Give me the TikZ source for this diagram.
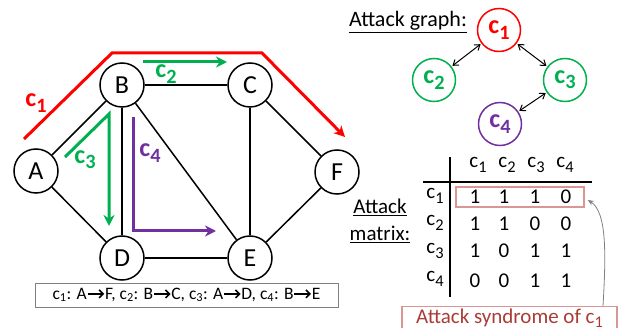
\documentclass[tikz,border=0pt]{standalone}
\usepackage{fontspec}
\usepackage{graphicx}
\setmainfont{Carlito}
\usetikzlibrary{arrows.meta}
\definecolor{cred}{RGB}{255,0,0}
\definecolor{cgreen}{RGB}{0,176,80}
\definecolor{cpurple}{RGB}{112,48,160}
\definecolor{boxpink}{RGB}{217,150,148}
\definecolor{synd}{RGB}{170,60,55}
\newcommand{\rarrow}{\tikz[baseline=-0.65ex]\draw[line width=1.6pt,-{Straight Barb[length=4pt,width=8pt]}] (0,0) -- (0.95em,0);}
\newcommand{\sbs}[1]{\raisebox{-0.2em}{\scalebox{0.78}{#1}}}
\begin{document}
\begin{tikzpicture}[x=1pt,y=-1pt,
  vert/.style={circle,draw,line width=1.5pt,minimum size=44pt,inner sep=0pt,font=\fontsize{26}{26}\selectfont},
  edge/.style={line width=1.5pt},
  attpath/.style={line width=3pt,line join=miter,-{Stealth[length=11pt,width=11pt,inset=3.5pt]}},
  plabel/.style={font=\fontsize{26}{26}\selectfont\bfseries},
  ag/.style={circle,draw,line width=1.5pt,minimum size=43pt,inner sep=0pt,font=\fontsize{26}{26}\selectfont\bfseries},
  biarr/.style={{Straight Barb[length=5pt,width=7pt]}-{Straight Barb[length=5pt,width=7pt]},line width=1pt,shorten <=1pt,shorten >=1pt},
  mtx/.style={font=\fontsize{21}{21}\selectfont},
  mhead/.style={font=\fontsize{21}{21}\selectfont},
]
\useasboundingbox (0,0) rectangle (626,328);

% --- network graph ---
\node[vert] (A) at (36,171) {A};
\node[vert] (B) at (122,85) {B};
\node[vert] (C) at (250,85) {C};
\node[vert] (D) at (122,258) {D};
\node[vert] (E) at (250,258) {E};
\node[vert] (F) at (337,172) {F};
\draw[edge] (A) -- (B);
\draw[edge] (A) -- (D);
\draw[edge] (B) -- (D);
\draw[edge] (B) -- (C);
\draw[edge] (B) -- (E);
\draw[edge] (C) -- (E);
\draw[edge] (C) -- (F);
\draw[edge] (D) -- (E);
\draw[edge] (E) -- (F);

% --- attack paths ---
\coordinate (r0) at (24,139);
\coordinate (r1) at (112,53);
\coordinate (r2) at (262,53);
\coordinate (r3) at (345,137);
\draw[attpath,draw=cred] (r0) -- (r1) -- (r2) -- (r3);
\node[plabel,text=cred] (l1) at (36,103) {c\sbs{1}};

\coordinate (g0) at (143,62);
\coordinate (g1e) at (227,62);
\draw[attpath,draw=cgreen] (g0) -- (g1e);
\node[plabel,text=cgreen] (l2) at (166,74) {c\sbs{2}};

\coordinate (t0) at (65,157);
\coordinate (t1) at (109,114);
\coordinate (t2) at (109,226);
\draw[attpath,draw=cgreen] (t0) -- (t1) -- (t2);
\node[plabel,text=cgreen] (l3) at (85,160) {c\sbs{3}};

\coordinate (p0) at (133,117);
\coordinate (p1) at (133,231);
\coordinate (p2) at (216,231);
\draw[attpath,draw=cpurple] (p0) -- (p1) -- (p2);
\node[plabel,text=cpurple] (l4) at (150,153) {c\sbs{4}};

% --- legend ---
\node[draw=gray,line width=0.8pt,minimum width=303pt,minimum height=24pt,inner sep=0pt,font=\fontsize{17.5}{17.5}\selectfont] (leg) at (186.5,295)
  {c\textsubscript{1}: A\rarrow F, c\textsubscript{2}: B\rarrow C, c\textsubscript{3}: A\rarrow D, c\textsubscript{4}: B\rarrow E};

% --- attack graph ---
\node[font=\fontsize{22}{22}\selectfont] (agt) at (408,22) {\underline{Attack graph:}};
\node[ag,draw=cred,text=cred] (c1) at (499,30) {c\sbs{1}};
\node[ag,draw=cgreen,text=cgreen] (c2) at (434,80) {c\sbs{2}};
\node[ag,draw=cgreen,text=cgreen] (c3) at (565,80) {c\sbs{3}};
\node[ag,draw=cpurple,text=cpurple] (c4) at (500,124) {c\sbs{4}};
\draw[biarr] (c1) -- (c2);
\draw[biarr] (c1) -- (c3);
\draw[biarr] (c3) -- (c4);

% --- attack matrix ---
\node[font=\fontsize{21}{27}\selectfont,align=center] (amt) at (380,221) {\underline{Attack}\\\underline{matrix:}};
\coordinate (v0) at (450,157);
\coordinate (v1) at (450,297);
\coordinate (h0) at (423,182);
\coordinate (h1) at (592,182);
\draw[line width=2pt] (v0) -- (v1);
\draw[line width=2pt] (h0) -- (h1);

\node[mhead] (ch1) at (478,165) {c\sbs{1}};
\node[mhead] (ch2) at (507,165) {c\sbs{2}};
\node[mhead] (ch3) at (536,165) {c\sbs{3}};
\node[mhead] (ch4) at (565,165) {c\sbs{4}};
\node[mhead] (rh1) at (435,196) {c\sbs{1}};
\node[mhead] (rh2) at (435,223) {c\sbs{2}};
\node[mhead] (rh3) at (435,251) {c\sbs{3}};
\node[mhead] (rh4) at (435,279) {c\sbs{4}};

\foreach \r/\y/\a/\b/\c/\d in {1/197/1/1/1/0, 2/224/1/1/0/0, 3/251/1/0/1/1, 4/281/0/0/1/1}{
  \node[mtx] (m\r a) at (475,\y) {\a};
  \node[mtx] (m\r b) at (504,\y) {\b};
  \node[mtx] (m\r c) at (535,\y) {\c};
  \node[mtx] (m\r d) at (566,\y) {\d};
}
\node[draw=boxpink,line width=1.5pt,minimum width=128pt,minimum height=20pt,inner sep=0pt] (hl) at (520,197) {};

\node[draw=boxpink,line width=1.2pt,text=synd,minimum width=215pt,minimum height=24pt,inner sep=0pt,anchor=north,font=\fontsize{21}{21}\selectfont] (syn) at (509.5,306) {Attack syndrome of c\sbs{1}};
\draw[gray,line width=0.8pt,-{Stealth[length=6pt,width=5pt]}] ([xshift=93.5pt]syn.north) .. controls (606,255) and (607,212) .. ([xshift=3pt,yshift=-3pt]hl.east);
\end{tikzpicture}
\end{document}
